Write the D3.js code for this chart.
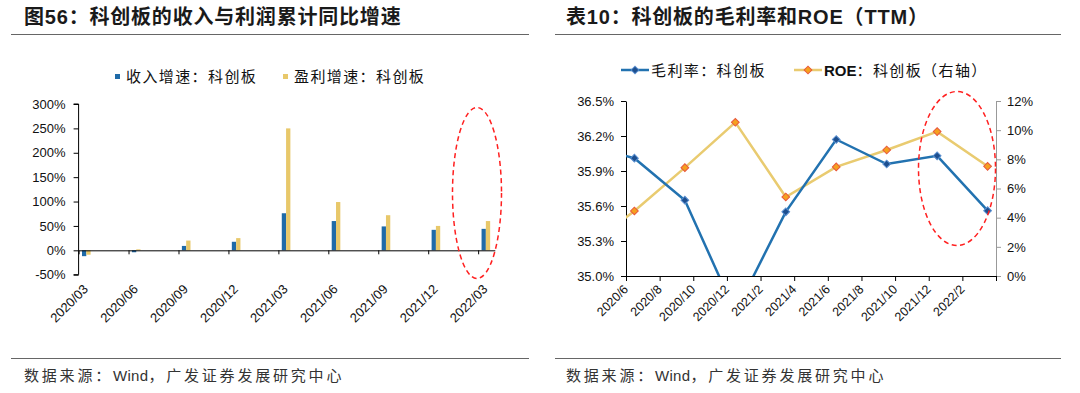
<!DOCTYPE html>
<html>
<head>
<meta charset="utf-8">
<script src="https://cdn.jsdelivr.net/npm/d3@7"></script>
<style>
  body { margin: 0; background: #fff; }
  svg text { font-family: "Liberation Sans", Arial, "Noto Sans CJK SC", sans-serif; }
</style>
</head>
<body>
<div class="canvas"></div>
<script>
// ---- data: left chart (quarterly cumulative yoy growth, %)
const barCategories = ['2020/03', '2020/06', '2020/09', '2020/12', '2021/03', '2021/06', '2021/09', '2021/12', '2022/03'];
const revenueGrowth = [-12, -4, 9, 17.5, 76, 60, 49, 42, 44];
const profitGrowth = [-9, 2, 20, 25, 250, 99, 72, 50, 60];
const barYTicks = [-50, 0, 50, 100, 150, 200, 250, 300];

// ---- data: right chart (TTM)
const lineDates = ['2020/3', '2020/6', '2020/9', '2020/12', '2021/3', '2021/6', '2021/9', '2021/12', '2022/3'];
const grossMargin = [36.12, 36.01, 35.65, 34.69, 35.55, 36.17, 35.96, 36.03, 35.56];
const roe = [1.8, 4.46, 7.43, 10.54, 5.42, 7.48, 8.64, 9.9, 7.52];
const lineXTicks = ['2020/6', '2020/8', '2020/10', '2020/12', '2021/2', '2021/4', '2021/6', '2021/8', '2021/10', '2021/12', '2022/2'];
const leftYTicks = [35.0, 35.3, 35.6, 35.9, 36.2, 36.5];
const rightYTicks = [0, 2, 4, 6, 8, 10, 12];

const blue = '#1f6aa8';
const yellow = '#e8c86a';
const lineBlue = '#2272b0';
const lineYellow = '#e9cb70';

const svg = d3.select('.canvas')
    .append('svg')
    .attr('width', 1080)
    .attr('height', 393);

svg.append('rect').attr('width', 1080).attr('height', 393).attr('fill', '#fff');

// month index helpers
function monthIndex(label, y0, m0) {
    const [y, m] = label.split('/').map(Number);
    return (y - y0) * 12 + (m - m0);
}

// titles, rules and sources for both panels
function panelFrame(x0, x1, title, textX) {
    svg.append('text')
        .attr('x', textX)
        .attr('y', 24)
        .attr('font-size', 20)
        .attr('font-weight', 'bold')
        .attr('fill', '#1a1a1a')
        .attr('letter-spacing', 0.8)
        .text(title);

    [34.5, 358.5].forEach(y => {
        svg.append('line')
            .attr('x1', x0).attr('x2', x1)
            .attr('y1', y).attr('y2', y)
            .attr('stroke', '#666')
            .attr('stroke-width', 1);
    });

    const src = svg.append('text')
        .attr('x', textX)
        .attr('y', 381)
        .attr('font-size', 15)
        .attr('fill', '#333');
    src.append('tspan').attr('letter-spacing', 2.8).text('数据来源：');
    src.append('tspan').attr('letter-spacing', 0.3).text('Wind');
    src.append('tspan').attr('letter-spacing', 2.8).text('，广发证券发展研究中心');
}

panelFrame(11, 529, '图56：科创板的收入与利润累计同比增速', 24);
panelFrame(555, 1061, '表10：科创板的毛利率和ROE（TTM）', 566);

// ================= left: bar chart =================
(function drawBars() {
    const x = d3.scaleLinear().domain([0, 25]).range([78.6, 494.8]);
    const y = d3.scaleLinear().domain([-50, 300]).range([274.7, 104]);
    const g = svg.append('g');

    // legend
    const legend = [['收入增速：科创板', blue, 115], ['盈利增速：科创板', yellow, 283]];
    legend.forEach(([label, color, lx]) => {
        g.append('rect').attr('x', lx).attr('y', 74).attr('width', 5).attr('height', 5).attr('fill', color);
        g.append('text').attr('x', lx + 11).attr('y', 81.5)
            .attr('font-size', 15).attr('letter-spacing', 1.4).attr('fill', '#111')
            .text(label);
    });

    // y axis
    const yAxis = d3.axisLeft(y)
        .tickValues(barYTicks)
        .tickSize(5)
        .tickPadding(8)
        .tickFormat(d => d + '%');
    const yAxisGroup = g.append('g')
        .attr('transform', 'translate(78.6,0)')
        .call(yAxis);
    yAxisGroup.select('.domain').attr('d', `M-5,${y(-50)}H0V${y(300)}H-5`);
    yAxisGroup.selectAll('text').attr('font-size', 13).attr('fill', '#111');

    // bars
    const bw = 4.3;
    barCategories.forEach((c, i) => {
        const m = monthIndex(c, 2020, 3);
        const left = x(m) + 3.4;
        g.append('rect')
            .attr('x', left)
            .attr('width', bw)
            .attr('y', y(Math.max(0, revenueGrowth[i])))
            .attr('height', Math.abs(y(revenueGrowth[i]) - y(0)))
            .attr('fill', blue);
        g.append('rect')
            .attr('x', left + bw)
            .attr('width', bw)
            .attr('y', y(Math.max(0, profitGrowth[i])))
            .attr('height', Math.abs(y(profitGrowth[i]) - y(0)))
            .attr('fill', yellow);
    });

    // category axis on the zero line
    const xAxis = d3.axisBottom(x)
        .tickValues(barCategories.map(c => monthIndex(c, 2020, 3)))
        .tickSize(4)
        .tickSizeOuter(0)
        .tickFormat('');
    g.append('g')
        .attr('transform', `translate(0,${y(0)})`)
        .call(xAxis);

    barCategories.forEach(c => {
        const cx = x(monthIndex(c, 2020, 3) + 0.5);
        g.append('text')
            .attr('text-anchor', 'end')
            .attr('font-size', 13)
            .attr('fill', '#111')
            .attr('transform', `translate(${cx + 2},${290}) rotate(-45)`)
            .text(c);
    });

    // highlight
    g.append('ellipse')
        .attr('cx', 477).attr('cy', 193)
        .attr('rx', 24.5).attr('ry', 85.5)
        .attr('fill', 'none')
        .attr('stroke', '#ff2020')
        .attr('stroke-width', 1.5)
        .attr('stroke-dasharray', '5,3.5');
})();

// ================= right: line chart =================
(function drawLines() {
    const x = d3.scaleLinear().domain([0, 22]).range([626, 996]);
    const yL = d3.scaleLinear().domain([35.0, 36.5]).range([276, 101]);
    const yR = d3.scaleLinear().domain([0, 12]).range([276, 101]);
    const g = svg.append('g');

    // square turned 45 degrees, as in the original markers
    const marker = d3.symbol().type(d3.symbolSquare).size(30);

    // legend
    const legend = [
        ['毛利率：科创板', lineBlue, '#1d4f8f', '#5a8fd0', 621],
        ['ROE：科创板（右轴）', lineYellow, '#f5a01e', '#e8573c', 794]
    ];
    legend.forEach(([label, color, fill, edge, lx]) => {
        g.append('line').attr('x1', lx).attr('x2', lx + 28).attr('y1', 70).attr('y2', 70)
            .attr('stroke', color).attr('stroke-width', 2.5);
        g.append('path').attr('d', marker).attr('transform', `translate(${lx + 14},70) rotate(45)`)
            .attr('fill', fill).attr('stroke', edge).attr('stroke-width', 1);
        const t = g.append('text').attr('x', lx + 30).attr('y', 75.5)
            .attr('font-size', 15).attr('letter-spacing', 1.4).attr('fill', '#111');
        if (label.startsWith('ROE')) {
            t.append('tspan').attr('font-weight', 'bold').attr('letter-spacing', 0).text('ROE');
            t.append('tspan').text(label.slice(3));
        } else {
            t.text(label);
        }
    });

    // axes
    const leftAxis = g.append('g').attr('transform', 'translate(626,0)')
        .call(d3.axisLeft(yL).tickValues(leftYTicks).tickSize(5).tickPadding(7).tickSizeOuter(0)
            .tickFormat(d => d.toFixed(1) + '%'));
    leftAxis.selectAll('text').attr('font-size', 13).attr('fill', '#111');

    const rightAxis = g.append('g').attr('transform', 'translate(996,0)')
        .call(d3.axisRight(yR).tickValues(rightYTicks).tickSize(5).tickPadding(6).tickSizeOuter(0)
            .tickFormat(d => d + '%'));
    rightAxis.selectAll('line, .domain').attr('stroke', '#999');
    rightAxis.selectAll('text').attr('font-size', 13).attr('fill', '#111');

    const tickMonths = d3.range(0, 23, 2);
    g.append('g').attr('transform', 'translate(0,276)')
        .call(d3.axisBottom(x).tickValues(tickMonths).tickSize(5).tickSizeOuter(0).tickFormat(''));

    lineXTicks.forEach(lbl => {
        const tx = x(monthIndex(lbl, 2020, 6));
        g.append('text')
            .attr('text-anchor', 'end')
            .attr('font-size', 12.5)
            .attr('fill', '#111')
            .attr('transform', `translate(${tx + 3},${290}) rotate(-45)`)
            .text(lbl);
    });

    // clip to plot area
    svg.append('clipPath').attr('id', 'plot-clip')
        .append('rect').attr('x', 626).attr('y', 96).attr('width', 370).attr('height', 180);

    const points = lineDates.map((d, i) => ({
        px: x(monthIndex(d, 2020, 6) + 0.5),
        gm: grossMargin[i],
        roe: roe[i]
    }));

    const plot = g.append('g').attr('clip-path', 'url(#plot-clip)');

    const series = [
        { key: 'roe', y: yR, color: lineYellow, fill: '#f5a01e', edge: '#e8573c' },
        { key: 'gm', y: yL, color: lineBlue, fill: '#1d4f8f', edge: '#5a8fd0' }
    ];
    series.forEach(s => {
        const line = d3.line().x(d => d.px).y(d => s.y(d[s.key]));
        plot.append('path')
            .datum(points)
            .attr('fill', 'none')
            .attr('stroke', s.color)
            .attr('stroke-width', 2.5)
            .attr('d', line);
        plot.selectAll(null)
            .data(points)
            .enter().append('path')
            .attr('d', marker)
            .attr('transform', d => `translate(${d.px},${s.y(d[s.key])}) rotate(45)`)
            .attr('fill', s.fill)
            .attr('stroke', s.edge)
            .attr('stroke-width', 1);
    });

    // highlight
    g.append('ellipse')
        .attr('cx', 957).attr('cy', 168.5)
        .attr('rx', 38.5).attr('ry', 77)
        .attr('fill', 'none')
        .attr('stroke', '#ff2020')
        .attr('stroke-width', 1.5)
        .attr('stroke-dasharray', '5,3.5');
})();
</script>
</body>
</html>
